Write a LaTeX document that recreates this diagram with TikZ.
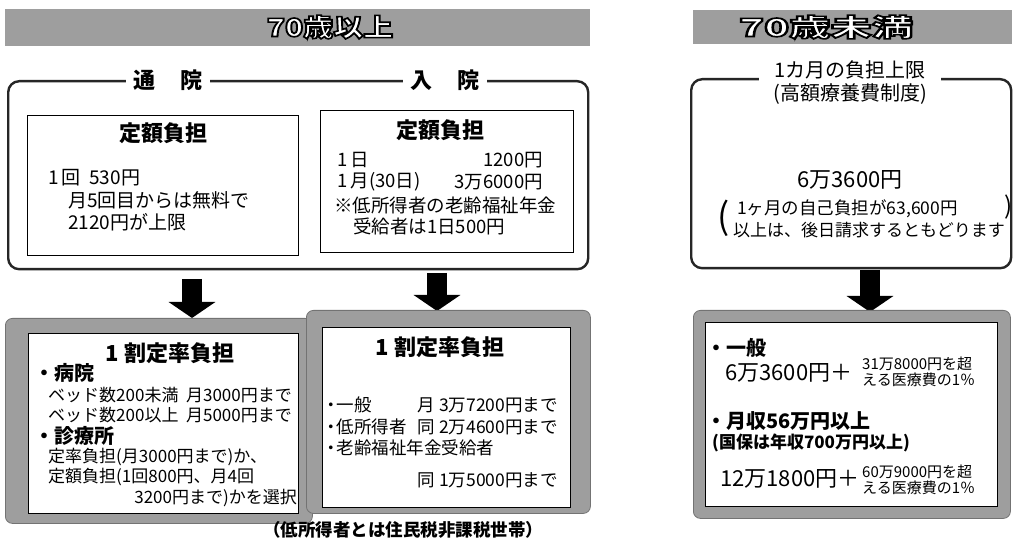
\documentclass[tikz,border=0pt]{standalone}
\usepackage{fontspec}
\setmainfont{Noto Sans CJK JP}
\usepackage{graphicx}
\usetikzlibrary{arrows.meta}
\newcommand\fs[1]{\fontsize{#1}{#1}\selectfont}
\newcommand\outl[1]{\special{pdf:literal direct 1.6 w 0 0 0 RG 2 Tr}#1\special{pdf:literal direct 0 Tr}}
\newcommand\bul{\makebox[0.6em][c]{・}}
\tikzset{
  hbar/.style={fill=black!38},
  ttl/.style={inner sep=0pt,text=white,font=\fs{25}\bfseries},
  oframe/.style={draw=black!85,line width=2.4pt,rounded corners=11pt,inner sep=0pt,anchor=north west},
  ibox/.style={draw=black,line width=1.3pt,inner sep=0pt,anchor=north west},
  gbox/.style={fill=black!38,draw=black!55,line width=0.8pt,rounded corners=7pt,inner sep=0pt,anchor=north west},
  wbox/.style={fill=white,draw=black,line width=1pt,inner sep=0pt,anchor=north west},
  tx/.style={inner sep=0pt,font=\fs{19}},
  tw/.style={tx,anchor=west},
  te/.style={tx,anchor=east},
  hd/.style={inner sep=0pt,font=\fs{22}\bfseries},
  lab/.style={fill=white,inner xsep=8pt,inner ysep=2pt,font=\fs{22}\bfseries},
  barrow/.style={line width=20pt,-{Triangle[width=46pt,length=16pt]}},
}
\begin{document}
\begin{tikzpicture}[x=1pt,y=-1pt]
\useasboundingbox (0,0) rectangle (1015,545);
\fill[white] (0,0) rectangle (1015,545);

% ---------- left column (70歳以上) ----------
\fill[hbar] (5,9) rectangle (590,46);
\node[ttl] (T1) at (330,27) {\outl{\scalebox{1.2}[1]{70歳以上}}};

\node[oframe,minimum width=580pt,minimum height=188pt] (L) at (7,80) {};
\node[lab] (lt) at (168,80) {通\hspace{1.1em}院};
\node[lab] (lr) at (445,80) {入\hspace{1.1em}院};

\node[ibox,minimum width=271pt,minimum height=140pt] (B1) at (27,115) {};
\node[hd] (B1h) at (163,133) {定額負担};
\node[tw] (B1a) at (48,178) {1\,回\ \ 530円};
\node[tw] (B1b) at (68,200) {月5回目からは無料で};
\node[tw] (B1c) at (68,222) {2120円が上限};

\node[ibox,minimum width=253pt,minimum height=142pt] (B2) at (320,110) {};
\node[hd] (B2h) at (440,130) {定額負担};
\node[tw,font=\fs{18.5}] (B2a) at (337,160) {1\,日};
\node[te,font=\fs{18.5}] (B2b) at (543,160) {1200円};
\node[tw,font=\fs{18.5}] (B2c) at (337,182) {1\,月(30日)};
\node[te,font=\fs{18.5}] (B2d) at (543,182) {3万6000円};
\node[tw,font=\fs{18.5}] (B2e) at (334,205) {※低所得者の老齢福祉年金};
\node[tw,font=\fs{18.5}] (B2f) at (353,226) {受給者は1日500円};

% arrows
\coordinate (a1s) at (192,279); \coordinate (a1e) at (192,318);
\coordinate (a2s) at (437,273); \coordinate (a2e) at (437,311);
\draw[barrow] (a1s) -- (a1e);
\draw[barrow] (a2s) -- (a2e);

% bottom gray boxes
\node[gbox,minimum width=307pt,minimum height=205pt] (G1) at (5,318) {};
\node[gbox,minimum width=284pt,minimum height=203pt] (G2) at (306,310) {};
\node[wbox,minimum width=270pt,minimum height=180pt] (W1) at (28,333) {};
\node[wbox,minimum width=248pt,minimum height=180pt] (W2) at (322,327) {};

\node[hd] (W1h) at (170,353) {1\ 割定率負担};
\node[tw,font=\fs{20}\bfseries] (W1a) at (34,373) {・病院};
\node[tw,font=\fs{17}] (W1b) at (48,395) {ベッド数200未満\ \ 月3000円まで};
\node[tw,font=\fs{17}] (W1c) at (48,415) {ベッド数200以上\ \ 月5000円まで};
\node[tw,font=\fs{20}\bfseries] (W1d) at (34,436) {・診療所};
\node[tw,font=\fs{17}] (W1e) at (48,457) {定率負担(月3000円まで)か、};
\node[tw,font=\fs{17}] (W1f) at (48,477) {定額負担(1回800円、月4回};
\node[te,font=\fs{17}] (W1g) at (297,498) {3200円まで)かを選択};

\node[hd] (W2h) at (440,347) {1\ 割定率負担};
\node[tw,font=\fs{17.5}] (W2a) at (326,405) {\bul 一般};
\node[te,font=\fs{17.5}] (W2b) at (558,405) {月 3万7200円まで};
\node[tw,font=\fs{17.5}] (W2c) at (326,427) {\bul 低所得者};
\node[te,font=\fs{17.5}] (W2d) at (558,427) {同 2万4600円まで};
\node[tw,font=\fs{17.5}] (W2e) at (326,448) {\bul 老齢福祉年金受給者};
\node[te,font=\fs{17.5}] (W2f) at (558,480) {同 1万5000円まで};

\node[tx,font=\fs{17.5}\bfseries] (fn) at (403,530) {（低所得者とは住民税非課税世帯）};

% ---------- right column (70歳未満) ----------
\fill[hbar] (693,10) rectangle (1012,44);
\node[ttl] (T2) at (826,27) {\outl{\scalebox{1.65}[1]{70歳未満}}};

\node[oframe,minimum width=320pt,minimum height=189pt] (R) at (690,78) {};
\node[fill=white,inner xsep=14pt,inner ysep=2pt,align=center,font=\fs{20}] (Rt) at (850,83)
  {1カ月の負担上限\\[3pt](高額療養費制度)};
\node[tx,font=\fs{22}] (Rv) at (850,180) {6万3600円};
\node[inner sep=0pt,font=\fs{36}] (pl) at (724,218) {(};
\node[inner sep=0pt,font=\fs{24}] (pr) at (1009,207) {)};
\node[tw,font=\fs{17.5}] (Rh1) at (737,209) {1ヶ月の自己負担が63,600円};
\node[tw,font=\fs{17}] (Rh2) at (733,230) {以上は、後日請求するともどります};

\coordinate (a3s) at (870,270); \coordinate (a3e) at (870,312);
\draw[barrow] (a3s) -- (a3e);

\node[gbox,minimum width=317pt,minimum height=208pt] (G3) at (693,310) {};
\node[wbox,minimum width=292pt,minimum height=184pt] (W3) at (705,322) {};
\node[tw,font=\fs{20}\bfseries] (W3a) at (706,348) {・一般};
\node[tw,font=\fs{22}] (W3b) at (725,373) {6万3600円＋};
\node[tw,font=\fs{15}] (W3c) at (862,364) {31万8000円を超};
\node[tw,font=\fs{15}] (W3d) at (862,380) {える医療費の1％};
\node[tw,font=\fs{20}\bfseries] (W3e) at (706,421) {・月収56万円以上};
\node[tw,font=\fs{17}\bfseries] (W3f) at (712,443) {(国保は年収700万円以上)};
\node[tw,font=\fs{22}] (W3g) at (720,479) {12万1800円＋};
\node[tw,font=\fs{15}] (W3h) at (862,472) {60万9000円を超};
\node[tw,font=\fs{15}] (W3i) at (862,488) {える医療費の1％};
\end{tikzpicture}
\end{document}
